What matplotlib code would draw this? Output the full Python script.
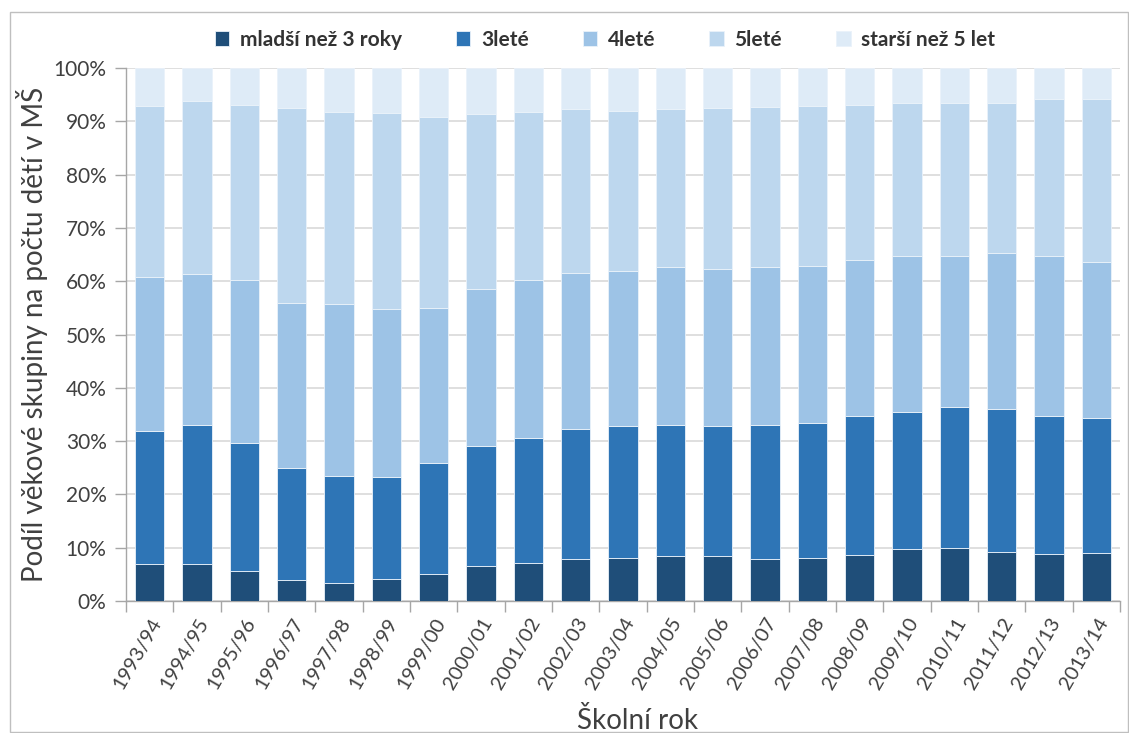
"""
Podíl věkových skupin dětí v MŠ, 1993/94 - 2013/14
"""
import matplotlib.pyplot as plt
from matplotlib.patches import Rectangle
import numpy as np

plt.rcParams['font.family'] = ['Lato', 'DejaVu Sans']

years = ['1993/94', '1994/95', '1995/96', '1996/97', '1997/98', '1998/99', '1999/00',
         '2000/01', '2001/02', '2002/03', '2003/04', '2004/05', '2005/06', '2006/07',
         '2007/08', '2008/09', '2009/10', '2010/11', '2011/12', '2012/13', '2013/14']

# shares in %
mladsi = [6.9, 7.0, 5.6, 4.0, 3.3, 4.1, 5.1, 6.6, 7.1, 7.8, 8.0,
          8.5, 8.4, 7.8, 8.0, 8.6, 9.7, 9.9, 9.1, 8.9, 9.0]
lete3 = [25.0, 26.1, 24.0, 21.0, 20.1, 19.2, 20.7, 22.5, 23.5, 24.5, 24.9,
         24.6, 24.5, 25.2, 25.4, 26.1, 25.8, 26.5, 26.9, 25.8, 25.3]
lete4 = [28.9, 28.3, 30.6, 31.0, 32.4, 31.5, 29.2, 29.5, 29.7, 29.3, 29.1,
         29.6, 29.3, 29.7, 29.5, 29.3, 29.2, 28.3, 29.2, 30.1, 29.3]
lete5 = [32.1, 32.4, 32.9, 36.5, 36.0, 36.7, 35.9, 32.7, 31.5, 30.8, 30.0,
         29.6, 30.3, 30.0, 30.0, 29.1, 28.7, 28.7, 28.2, 29.3, 30.5]
starsi = [7.1, 6.2, 6.9, 7.5, 8.2, 8.5, 9.1, 8.7, 8.2, 7.6, 8.0,
          7.7, 7.5, 7.3, 7.1, 6.9, 6.6, 6.6, 6.6, 5.9, 5.9]

series = [mladsi, lete3, lete4, lete5, starsi]
labels = ['mladší než 3 roky', '3leté', '4leté', '5leté', 'starší než 5 let']
colors = ['#1F4E79', '#2E75B6', '#9DC3E6', '#BDD7EE', '#DEEBF7']

text_col = '#404040'
axis_col = '#A6A6A6'

fig = plt.figure(figsize=(11.29, 7.33), dpi=100)
ax = fig.add_axes([0.1116, 0.1801, 0.8804, 0.7271])

x = np.arange(len(years))
bottom = np.zeros(len(years))
for vals, lab, col in zip(series, labels, colors):
    ax.bar(x, vals, bottom=bottom, width=0.62, color=col, label=lab,
           edgecolor='#EAF2FA', linewidth=0.6, zorder=3)
    bottom += np.array(vals)

ax.set_xlim(-0.5, len(years) - 0.5)
ax.set_ylim(0, 100)
ax.set_yticks(range(0, 101, 10))
ax.set_yticklabels(['{}%'.format(v) for v in range(0, 101, 10)])
ax.yaxis.grid(True, color='#D9D9D9', linewidth=1.2, zorder=0)

ax.set_xticks(x)
ax.set_xticklabels(years, rotation=60, ha='right', rotation_mode='anchor')
ax.set_xticks(np.arange(-0.5, len(years), 1), minor=True)
ax.tick_params(axis='x', which='major', length=0, pad=10, labelsize=14.5, labelcolor=text_col)
ax.tick_params(axis='x', which='minor', length=8, color=axis_col, width=1)
ax.tick_params(axis='y', length=8, color=axis_col, width=1, labelsize=15,
               labelcolor=text_col, pad=6)

for s in ['top', 'right']:
    ax.spines[s].set_visible(False)
for s in ['left', 'bottom']:
    ax.spines[s].set_color(axis_col)
    ax.spines[s].set_linewidth(1)

ax.set_xlabel('Školní rok', fontsize=20, color=text_col)
ax.xaxis.set_label_coords(0.515, -0.198)
ax.set_ylabel('Podíl věkové skupiny na počtu dětí v MŠ', fontsize=20, color=text_col)
ax.yaxis.set_label_coords(-0.078, 0.5)

fig.legend(loc='center', bbox_to_anchor=(605 / 1129, 1 - 40 / 733), ncol=5, frameon=False,
           prop={'weight': 'bold', 'size': 15}, labelcolor='#333333',
           handlelength=0.7, handleheight=0.7, handletextpad=0.5, columnspacing=2.6)

fig.patches.append(Rectangle((10 / 1129, 0.001), 1 - 10 / 1129 - 0.001, 1 - 12 / 733 - 0.001,
                             transform=fig.transFigure, fill=False,
                             edgecolor='#BFBFBF', linewidth=1))

fig.savefig('out.png', dpi=100)
